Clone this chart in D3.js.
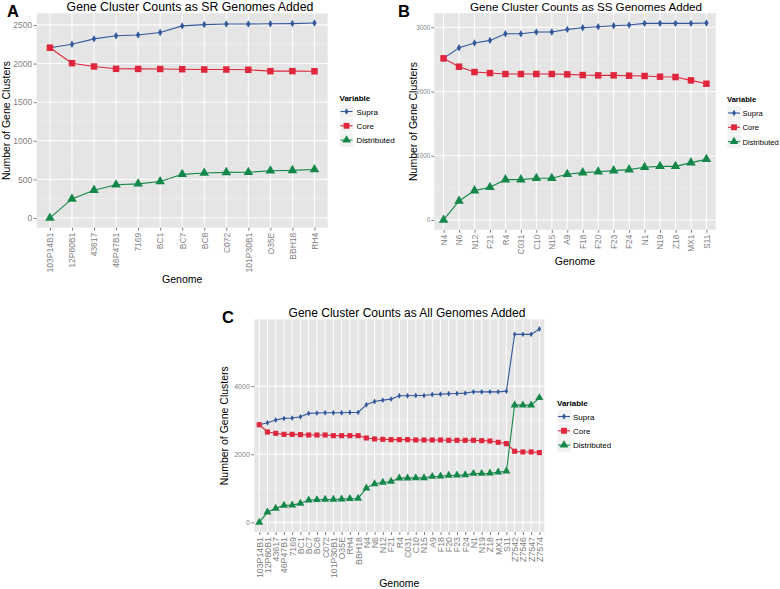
<!DOCTYPE html>
<html><head><meta charset="utf-8">
<script src="https://cdn.jsdelivr.net/npm/d3@7"></script>
<style>body{margin:0;background:#fff}svg{display:block;font-family:"Liberation Sans",Arial,sans-serif}</style>
</head><body><svg id="c" width="780" height="589"></svg>
<script>
// ---------- data ----------
const seriesNames = ["Supra", "Core", "Distributed"];

const genomesA = ["103P14B1","12P80B1","43617","46P47B1","7169","BC1","BC7","BC8","C072","101P30B1","O35E","BBH18","RH4"];
const supraA = [2205, 2250, 2320, 2360, 2370, 2402, 2488, 2505, 2512, 2513, 2515, 2518, 2525];
const coreA  = [2205, 2005, 1962, 1932, 1931, 1930, 1927, 1923, 1923, 1920, 1902, 1902, 1900];
const distA  = [0, 247, 360, 430, 442, 472, 565, 582, 590, 592, 612, 616, 627];

const genomesB = ["N4","N6","N12","F21","R4","C031","C10","N15","A9","F18","F20","F23","F24","N1","N19","Z18","MX1","S11"];
const supraB = [2517, 2683, 2755, 2797, 2901, 2901, 2927, 2927, 2968, 2994, 3009, 3025, 3036, 3062, 3062, 3062, 3062, 3067];
const coreB  = [2517, 2387, 2304, 2288, 2273, 2273, 2273, 2273, 2268, 2257, 2252, 2252, 2247, 2242, 2231, 2226, 2174, 2122];
const distB  = [0, 296, 457, 509, 628, 628, 649, 649, 711, 737, 752, 768, 784, 820, 835, 835, 893, 944];

const genomesC = ["103P14B1","12P80B1","43617","46P47B1","7169","BC1","BC7","BC8","C072","101P30B1","O35E","RH4","BBH18",
  "N4","N6","N12","F21","R4","C031","C10","N15","A9","F18","F20","F23","F24","N1","N19","Z18","MX1","S11",
  "Z7542","Z7546","Z7547","Z7574"];
const supraC = [2868, 2927, 3005, 3054, 3063, 3102, 3200, 3210, 3220, 3220, 3220, 3229, 3229,
  3454, 3551, 3590, 3620, 3717, 3717, 3727, 3727, 3756, 3766, 3776, 3785, 3795, 3834, 3834, 3834, 3834, 3854,
  5522, 5522, 5522, 5678];
const coreC  = [2868, 2654, 2615, 2585, 2585, 2576, 2566, 2566, 2566, 2546, 2546, 2546, 2546,
  2478, 2449, 2439, 2429, 2429, 2429, 2420, 2420, 2420, 2420, 2410, 2410, 2410, 2410, 2400, 2390, 2351, 2312,
  2088, 2068, 2068, 2049];
const distC  = [0, 302, 410, 498, 507, 556, 654, 663, 673, 673, 683, 693, 702,
  1005, 1132, 1171, 1200, 1298, 1298, 1307, 1307, 1346, 1356, 1376, 1385, 1395, 1434, 1434, 1444, 1473, 1502,
  3444, 3444, 3444, 3659];

const yTicksA = [0, 500, 1000, 1500, 2000, 2500];
const yTicksB = [0, 1000, 2000, 3000];
const yTicksC = [0, 2000, 4000];
const minorA = [250, 750, 1250, 1750, 2250];
const minorB = [500, 1500, 2500];
const minorC = [1000, 3000, 5000];

const titles = ["Gene Cluster Counts as SR Genomes Added","Gene Cluster Counts as SS Genomes Added","Gene Cluster Counts as All Genomes Added"];
const letters = ["A","B","C"];

// ---------- style ----------
const colors = {Supra:"#34589c", Core:"#e0263c", Distributed:"#14884a"};
const symbols = {Supra:d3.symbolDiamond, Core:d3.symbolSquare, Distributed:d3.symbolTriangle};

const svg = d3.select("#c");

function panel(o){
  const g = svg.append("g");
  const x = d3.scalePoint().domain(o.cats).range([o.l, o.r]).padding(0.6);
  const all = o.series.flatMap(s=>s.values);
  const mn = d3.min(all), mx = d3.max(all), ex = (mx-mn)*0.05;
  const y = d3.scaleLinear().domain([mn-ex, mx+ex]).range([o.b, o.t]);

  g.append("rect").attr("x",o.l).attr("y",o.t).attr("width",o.r-o.l).attr("height",o.b-o.t).attr("fill","#e5e5e5");
  g.selectAll(".mn").data(o.minor).join("line").attr("x1",o.l).attr("x2",o.r)
    .attr("y1",d=>y(d)).attr("y2",d=>y(d)).attr("stroke","#f2f2f2").attr("stroke-width",0.5);
  g.selectAll(".gy").data(o.yt).join("line").attr("x1",o.l).attr("x2",o.r)
    .attr("y1",d=>y(d)).attr("y2",d=>y(d)).attr("stroke","#fff").attr("stroke-width",1);
  g.selectAll(".gx").data(o.cats).join("line").attr("y1",o.t).attr("y2",o.b)
    .attr("x1",d=>x(d)).attr("x2",d=>x(d)).attr("stroke","#fff").attr("stroke-width",1);

  // axes
  const ya = g.append("g").attr("transform",`translate(${o.l},0)`)
    .call(d3.axisLeft(y).tickValues(o.yt).tickSize(3).tickPadding(o.ypad).tickFormat(d3.format("d")));
  ya.select(".domain").remove();
  ya.selectAll("line").attr("stroke","#7f7f7f");
  ya.selectAll("text").attr("fill","#7f7f7f").style("font-size",o.yfs+"px").attr("font-family","Liberation Sans, Arial");
  const xa = g.append("g").attr("transform",`translate(0,${o.b})`)
    .call(d3.axisBottom(x).tickSize(3).tickPadding(2));
  xa.select(".domain").remove();
  xa.selectAll("line").attr("stroke","#7f7f7f");
  xa.selectAll("text").attr("fill","#7f7f7f").style("font-size",o.xfs+"px").attr("font-family","Liberation Sans, Arial")
    .attr("text-anchor","end").attr("dy","0.33em").attr("transform","translate(0,5) rotate(-90)")
    .attr("x",0).attr("y",0);

  // series
  o.series.forEach(s=>{
    const line = d3.line().x((d,i)=>x(o.cats[i])).y(d=>y(d));
    g.append("path").attr("d",line(s.values)).attr("fill","none").attr("stroke",colors[s.name]).attr("stroke-width",1.1);
    g.selectAll(null).data(s.values).join("path")
      .attr("transform",(d,i)=>`translate(${x(o.cats[i])},${y(d)})`)
      .attr("d",d3.symbol(symbols[s.name], o.sz[s.name])).attr("fill",colors[s.name]);
  });

  // titles
  g.append("text").attr("x",o.tx).attr("y",o.ty).attr("text-anchor","middle").style("font-size",o.tfs+"px").attr("fill","#000").text(o.title);
  g.append("text").attr("x",o.lx).attr("y",o.ly).style("font-size","16.5px").style("font-weight","bold").text(o.letter);
  g.append("text").attr("transform",`translate(${o.ytx},${(o.t+o.b)/2}) rotate(-90)`).attr("text-anchor","middle")
    .style("font-size","10.5px").text("Number of Gene Clusters");
  g.append("text").attr("x",(o.l+o.r)/2).attr("y",o.xty).attr("text-anchor","middle").style("font-size","10.5px").text("Genome");

  // legend
  const lg = g.append("g").attr("transform",`translate(${o.legX},${o.legY})`);
  lg.append("text").attr("x",0).attr("y",0).style("font-size",o.lfs+"px").style("font-weight","bold").text("Variable");
  o.series.forEach((s,i)=>{
    const cy = 11 + i*14.3;
    lg.append("rect").attr("x",0).attr("y",cy-7).attr("width",14).attr("height",14).attr("fill","#f2f2f2").attr("stroke","#fff").attr("stroke-width",0.5);
    lg.append("line").attr("x1",1).attr("x2",13).attr("y1",cy).attr("y2",cy).attr("stroke",colors[s.name]).attr("stroke-width",1.1);
    lg.append("path").attr("transform",`translate(7,${cy})`).attr("d",d3.symbol(symbols[s.name], o.lsz[s.name])).attr("fill",colors[s.name]);
    lg.append("text").attr("x",o.ltx).attr("y",cy+3).style("font-size",o.lfs+"px").text(s.name);
  });
}

const szAB = {Supra:16, Core:42, Distributed:40};
const lszAB = {Supra:13, Core:34, Distributed:32};
panel({cats:genomesA, series:[{name:"Supra",values:supraA},{name:"Core",values:coreA},{name:"Distributed",values:distA}],
  l:36.7, r:327.7, t:13.3, b:227.7, yt:yTicksA, minor:minorA, yfs:8.5, ypad:1.5, xfs:8.5, sz:szAB, lsz:lszAB, lfs:8, ltx:17,
  title:titles[0], tfs:12.3, tx:190, ty:11, letter:letters[0], lx:7, ly:16.5, ytx:10, xty:283, legX:339.5, legY:100.5});
panel({cats:genomesB, series:[{name:"Supra",values:supraB},{name:"Core",values:coreB},{name:"Distributed",values:distB}],
  l:434.3, r:715.7, t:13.2, b:229.8, yt:yTicksB, minor:minorB, yfs:6.3, ypad:1, xfs:8.2, sz:szAB, lsz:lszAB, lfs:7.6, ltx:15.5,
  title:titles[1], tfs:11.6, tx:586, ty:10.5, letter:letters[1], lx:398, ly:16.5, ytx:416.5, xty:264.5, legX:727, legY:102});
panel({cats:genomesC, series:[{name:"Supra",values:supraC},{name:"Core",values:coreC},{name:"Distributed",values:distC}],
  l:254.3, r:544.3, t:319.4, b:532, yt:yTicksC, minor:minorC, yfs:7, ypad:1.5, xfs:8.8, sz:{Supra:10,Core:26,Distributed:28}, lsz:lszAB, lfs:8, ltx:16,
  title:titles[2], tfs:12, tx:407, ty:316.5, letter:letters[2], lx:222, ly:322.7, ytx:227.5, xty:587, legX:557, legY:405.5});
</script></body></html>
